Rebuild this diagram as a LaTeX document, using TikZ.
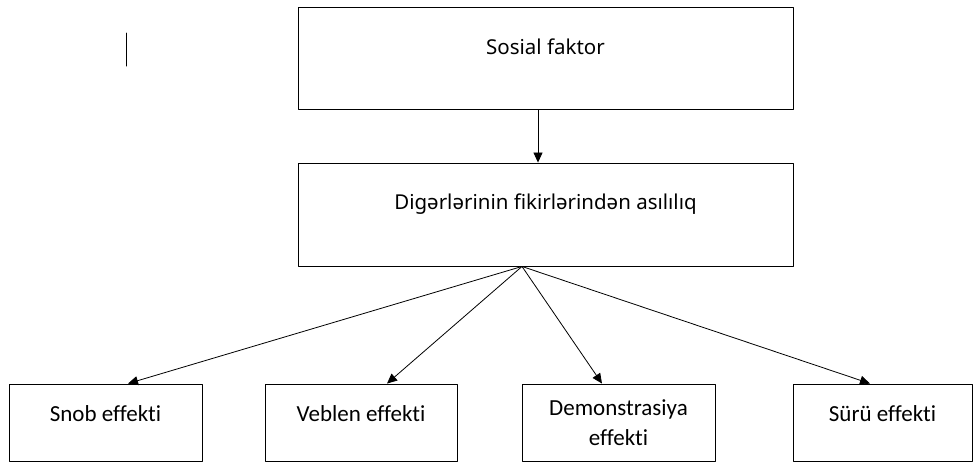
\documentclass[tikz,border=0pt]{standalone}
\usepackage{fontspec}
\setmainfont{Carlito}[Ligatures=NoCommon]
\newfontfamily\uifont{Noto Sans}
\usetikzlibrary{arrows.meta}
\begin{document}
\begin{tikzpicture}[x=1pt, y=-1pt, line cap=round, line join=round,
    box/.style={draw, line width=0.9pt, inner sep=0pt, align=center},
    bigbox/.style={box, minimum width=495pt, font=\uifont\fontsize{20.5}{24}\selectfont},
    effbox/.style={box, minimum height=77pt, font=\fontsize{23}{30}\selectfont},
    link/.style={-{Triangle[length=10pt, width=9pt]}, line width=0.8pt}]
  \useasboundingbox (0,0) rectangle (975,464);
  \draw[line width=1pt] (126,33) -- (126,66);
  % main boxes
  \node[bigbox, minimum height=102pt, text height=15pt, text depth=22pt] (sosial) at (545.5,58) {Sosial faktor};
  \node[bigbox, minimum height=103pt, text height=15pt, text depth=25pt] (asililiq) at (545.5,214.5) {Digərlərinin fikirlərindən asılılıq};
  \coordinate (fan) at ([xshift=-23.5pt]asililiq.south);
  % effects
  \node[effbox, minimum width=193pt, text height=16pt, text depth=19pt] (snob) at (105.5,422.5) {Snob effekti};
  \node[effbox, minimum width=192pt, text height=16pt, text depth=19pt] (veblen) at (361,422.5) {Veblen effekti};
  \node[effbox, minimum width=193pt] (demo) at (618.5,422.5) {Demonstrasiya\\effekti};
  \node[effbox, minimum width=179pt, text height=16pt, text depth=19pt] (suru) at (882.5,422.5) {Sürü effekti};
  \draw[link] ([xshift=-7.5pt]sosial.south) -- ([xshift=-7.5pt]asililiq.north);
  \draw[link] (fan) -- ([xshift=22.5pt]snob.north);
  \draw[link] (fan) -- ([xshift=26pt]veblen.north);
  \draw[link] (fan) -- ([xshift=-16.5pt]demo.north);
  \draw[link] (fan) -- ([xshift=-12.5pt]suru.north);
\end{tikzpicture}
\end{document}
